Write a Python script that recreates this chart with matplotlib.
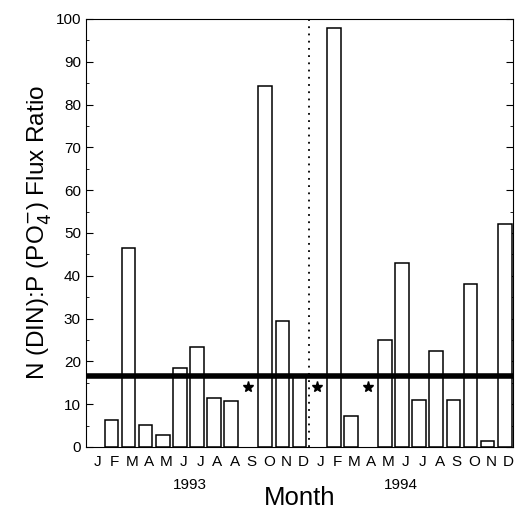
import numpy as np
import matplotlib
matplotlib.use("Agg")
import matplotlib.pyplot as plt

plt.rcParams['font.family'] = ['Liberation Sans', 'DejaVu Sans']

# Monthly N:P flux ratios, Jan 1993 - Dec 1994 (None = no bar)
months = ["J", "F", "M", "A", "M", "J", "J", "A", "A", "S", "O", "N", "D",
          "J", "F", "M", "A", "M", "J", "J", "A", "S", "O", "N", "D"]
ratio = [None, 6.3, 46.5, 5.1, 2.8, 18.5, 23.4, 11.4, 10.8, None, 84.3, 29.5, 16.5,
         None, 98.0, 7.2, None, 25.0, 43.0, 11.0, 22.5, 11.0, 38.0, 1.4, 52.0]
star_idx = [9, 13, 16]
star_y = 14
redfield = 16.5
year_sep = 12.35

fig = plt.figure(figsize=(5.2, 5.12), dpi=100)
ax = fig.add_axes([0.165, 0.127, 0.822, 0.836])

x = np.arange(len(months))
off = -0.2
for i, v in zip(x, ratio):
    if v is not None:
        ax.bar(i + off, v, width=0.8, color="white", edgecolor="black", linewidth=1.1, zorder=2)

ax.axhline(redfield, color="black", linewidth=4, zorder=3)
ax.axvline(year_sep, color="black", linestyle=(0, (1, 3)), linewidth=1.3, zorder=1)
ax.plot(x[star_idx] + off, [star_y] * len(star_idx), linestyle="none", marker="*",
        color="black", markersize=8, zorder=4)

ax.set_xlim(-0.7, 24.3)
ax.set_ylim(0, 100)
ax.set_yticks(np.arange(0, 101, 10))
ax.set_yticks(np.arange(5, 100, 10), minor=True)
ax.tick_params(axis="y", which="both", direction="in", right=True, labelsize=11)
ax.tick_params(axis="y", which="major", length=5)
ax.tick_params(axis="y", which="minor", length=2.5)
ax.set_xticks(x)
ax.set_xticklabels(months, fontsize=11)
ax.tick_params(axis="x", length=0, pad=6)

ax.text(5.4, -0.072, "1993", transform=ax.get_xaxis_transform(), ha="center", va="top", fontsize=11)
ax.text(17.7, -0.072, "1994", transform=ax.get_xaxis_transform(), ha="center", va="top", fontsize=11)
ax.set_xlabel("Month", fontsize=18.5, labelpad=12)
ax.set_ylabel("N (DIN):P (PO$_4^{-}$) Flux Ratio", fontsize=17.5, labelpad=2)

fig.savefig("out.png", dpi=100)
